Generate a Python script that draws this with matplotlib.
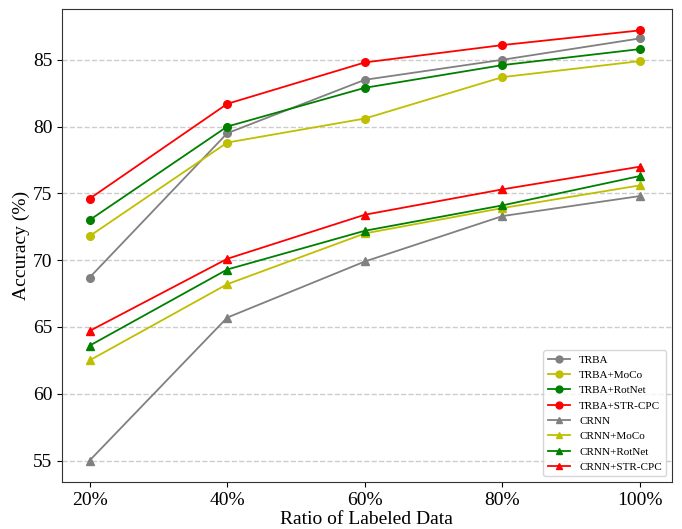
import matplotlib
matplotlib.use("Agg")
import matplotlib.pyplot as plt

plt.rcParams['font.family'] = ['Liberation Serif', 'DejaVu Serif']

ratios = ["20%", "40%", "60%", "80%", "100%"]
trba = [68.7, 79.5, 83.5, 85.0, 86.6]
trba_moco = [71.8, 78.8, 80.6, 83.7, 84.9]
trba_rotnet = [73.0, 80.0, 82.9, 84.6, 85.8]
trba_strcpc = [74.6, 81.7, 84.8, 86.1, 87.2]
crnn = [55.0, 65.7, 69.9, 73.3, 74.8]
crnn_moco = [62.5, 68.2, 72.0, 73.9, 75.6]
crnn_rotnet = [63.6, 69.3, 72.2, 74.1, 76.3]
crnn_strcpc = [64.7, 70.1, 73.4, 75.3, 77.0]

series = [
    ("TRBA", trba, "gray", "o"),
    ("TRBA+MoCo", trba_moco, "y", "o"),
    ("TRBA+RotNet", trba_rotnet, "g", "o"),
    ("TRBA+STR-CPC", trba_strcpc, "r", "o"),
    ("CRNN", crnn, "gray", "^"),
    ("CRNN+MoCo", crnn_moco, "y", "^"),
    ("CRNN+RotNet", crnn_rotnet, "g", "^"),
    ("CRNN+STR-CPC", crnn_strcpc, "r", "^"),
]

fig = plt.figure(figsize=(6.82, 5.29), dpi=100)
ax = fig.add_axes([0.091, 0.089, 0.894, 0.894])
x = list(range(len(ratios)))
for name, vals, c, m in series:
    ax.plot(x, vals, color=c, marker=m, markersize=5.5, linewidth=1.3, label=name)

ax.set_xticks(x)
ax.set_xticklabels(ratios)
ax.set_xlim(-0.2, 4.23)
ax.set_ylim(53.4, 88.8)
ax.set_yticks([55, 60, 65, 70, 75, 80, 85])
ax.tick_params(labelsize=14)
ax.set_xlabel("Ratio of Labeled Data", fontsize=14, labelpad=2)
ax.set_ylabel("Accuracy (%)", fontsize=14, labelpad=2)
ax.yaxis.grid(True, linestyle='--', color='#cccccc', linewidth=1)
ax.set_axisbelow(True)
for s in ax.spines.values():
    s.set_color('#333333')
ax.legend(loc='lower right', fontsize=8, labelspacing=0.5, markerscale=0.9)
fig.savefig("out.png", dpi=100)
